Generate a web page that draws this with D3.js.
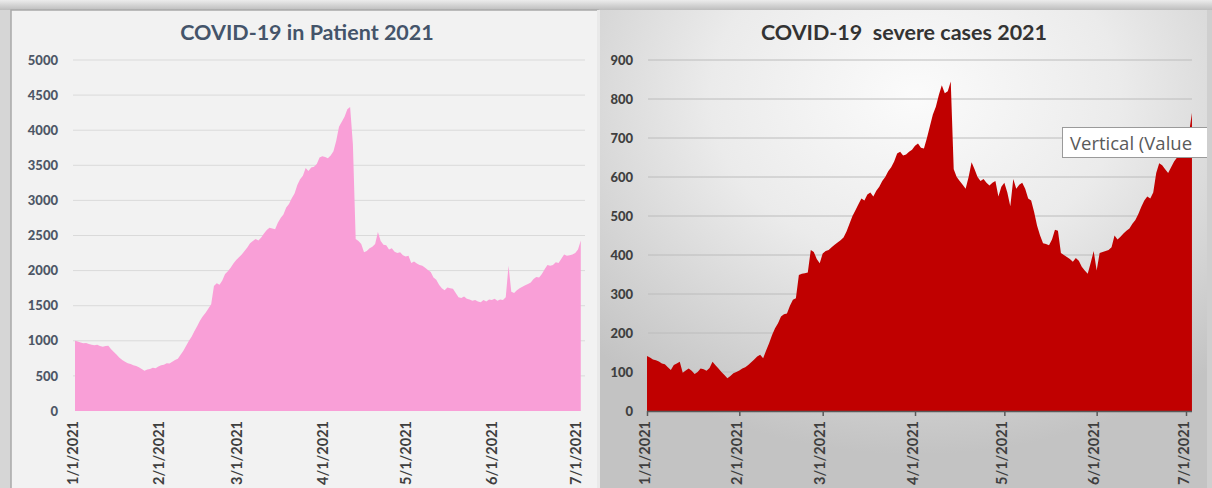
<!DOCTYPE html>
<html>
<head>
<meta charset="utf-8">
<script src="https://cdn.jsdelivr.net/npm/d3@7"></script>
<style>
  html, body { margin: 0; padding: 0; background: #d6d6d6; }
  svg { display: block; }
</style>
</head>
<body>
<svg id="chart"></svg>
<script>
// daily values, Jan 1 2021 onwards
const patientValues = [
  1001, 990, 975, 965, 970, 955, 945, 935, 945, 925,
  915, 925, 930, 880, 840, 800, 760, 725, 700, 680,
  670, 650, 640, 625, 600, 575, 590, 600, 615, 610,
  635, 650, 660, 680, 675, 700, 725, 745, 800, 860,
  930, 1000, 1060, 1140, 1210, 1290, 1350, 1400, 1460, 1520,
  1780, 1820, 1800, 1860, 1950, 1990, 2040, 2100, 2150, 2190,
  2230, 2280, 2330, 2390, 2420, 2450, 2430, 2470, 2530, 2580,
  2610, 2600, 2590, 2680, 2750, 2800, 2900, 2950, 3030, 3100,
  3220, 3300, 3350, 3460, 3420, 3470, 3480, 3520, 3610, 3630,
  3620, 3600, 3640, 3700, 3850, 4050, 4120, 4190, 4300, 4330,
  3800, 2450, 2420, 2380, 2260, 2280, 2320, 2340, 2380, 2550,
  2420, 2370, 2360, 2300, 2320, 2270, 2250, 2260, 2220, 2200,
  2210, 2110, 2130, 2100, 2080, 2070, 2040, 2010, 1980, 1900,
  1870, 1800, 1750, 1720, 1760, 1750, 1740, 1680, 1620, 1610,
  1630, 1600, 1590, 1570, 1580, 1560, 1550, 1580, 1560, 1590,
  1580, 1600, 1570, 1590, 1580, 1620, 2070, 1700, 1680, 1720,
  1750, 1770, 1790, 1810, 1830, 1880, 1910, 1900, 1950, 2020,
  2080, 2070, 2080, 2120, 2110, 2170, 2230, 2210, 2220, 2230,
  2250, 2300, 2430
];

const severeValues = [
  141, 137, 132, 130, 127, 122, 120, 112, 105, 118,
  122, 126, 98, 104, 109, 103, 95, 100, 109, 107,
  103, 110, 126, 117, 109, 100, 92, 84, 90, 97,
  100, 104, 109, 112, 118, 125, 132, 140, 144, 135,
  155, 174, 195, 212, 225, 242, 248, 250, 270, 285,
  289, 349, 352, 353, 355, 413, 408, 390, 379, 404,
  410, 413, 420, 426, 432, 438, 445, 460, 480, 500,
  515, 530, 545, 540, 555, 560, 550, 565, 575, 590,
  600, 615, 625, 640, 660, 665, 655, 658, 665, 670,
  680, 686, 675, 673, 700, 730, 760, 780, 810, 835,
  815, 820, 845, 620, 600, 590, 580, 570, 600, 638,
  620, 600, 590, 595, 585, 578, 585, 590, 550, 575,
  585, 560, 525, 595, 570, 580, 585, 570, 545, 540,
  510, 475, 450, 430, 428, 425, 440, 465, 462, 405,
  400, 395, 390, 383, 392, 385, 370, 360, 352, 380,
  410, 360, 405, 408, 410, 413, 420, 450, 440, 447,
  455, 462, 468, 480, 490, 505, 524, 540, 550, 545,
  560, 610, 635, 630, 620, 610, 625, 640, 650, 662,
  680, 700, 712, 765
];

const patientTicks = [0, 500, 1000, 1500, 2000, 2500, 3000, 3500, 4000, 4500, 5000];
const severeTicks = [0, 100, 200, 300, 400, 500, 600, 700, 800, 900];

const startDate = new Date(2021, 0, 1);
const endDate = new Date(2021, 6, 1);
const monthTicks = d3.timeMonth.range(startDate, d3.timeDay.offset(endDate, 1));
const fmtDate = d => `${d.getMonth() + 1}/${d.getDate()}/${d.getFullYear()}`;
const fmtNum = d3.format('d');

const width = 1212;
const height = 488;

const svg = d3.select('#chart')
    .attr('width', width)
    .attr('height', height);

const defs = svg.append('defs');

const topGrad = defs.append('linearGradient')
    .attr('id', 'topShade')
    .attr('x1', 0).attr('y1', 0).attr('x2', 0).attr('y2', 1);
topGrad.append('stop').attr('offset', '0%').attr('stop-color', '#ececec');
topGrad.append('stop').attr('offset', '100%').attr('stop-color', '#bdbdbd');

const rightGrad = defs.append('radialGradient')
    .attr('id', 'rightBg')
    .attr('cx', '52%').attr('cy', '18%').attr('r', '75%');
rightGrad.append('stop').attr('offset', '0%').attr('stop-color', '#fbfbfb');
rightGrad.append('stop').attr('offset', '45%').attr('stop-color', '#ebebeb');
rightGrad.append('stop').attr('offset', '100%').attr('stop-color', '#c3c3c3');

defs.append('clipPath').attr('id', 'rightClip')
  .append('rect')
    .attr('x', 600).attr('y', 10)
    .attr('width', 607).attr('height', 478);

// outer frame
svg.append('rect')
    .attr('x', 0).attr('y', 0)
    .attr('width', width).attr('height', 10)
    .attr('fill', 'url(#topShade)');

// ---------- left panel ----------
const left = svg.append('g');

left.append('rect')
    .attr('x', 11).attr('y', 10)
    .attr('width', 587).attr('height', 480)
    .attr('fill', '#f2f2f2')
    .attr('stroke', '#a9a9a9')
    .attr('stroke-width', 1.5);

const xL = d3.scaleTime().domain([startDate, endDate]).range([75, 578]);
const yL = d3.scaleLinear().domain([0, 5000]).range([411, 60]);

left.append('g')
  .selectAll('line')
  .data(patientTicks.slice(1))
  .enter()
  .append('line')
    .attr('x1', 73).attr('x2', 585)
    .attr('y1', d => yL(d)).attr('y2', d => yL(d))
    .attr('stroke', '#dadada')
    .attr('stroke-width', 1);

const patientArea = d3.area()
    .x((d, i) => xL(d3.timeDay.offset(startDate, i)))
    .y0(yL(0))
    .y1(d => yL(d));

left.append('path')
    .datum(patientValues)
    .attr('d', patientArea)
    .attr('fill', '#f99fd7');

const yAxisL = left.append('g')
    .attr('transform', 'translate(58,0)')
    .call(d3.axisLeft(yL).tickValues(patientTicks).tickFormat(fmtNum).tickSize(0).tickPadding(0));
yAxisL.select('.domain').remove();
yAxisL.selectAll('text')
    .attr('font-family', 'Lato, sans-serif')
    .attr('font-weight', 900)
    .attr('font-size', 13)
    .attr('fill', '#4e5766');

const xAxisL = left.append('g')
    .attr('transform', 'translate(0,411)')
    .call(d3.axisBottom(xL).tickValues(monthTicks).tickFormat(fmtDate).tickSize(0));
xAxisL.select('.domain').remove();
xAxisL.selectAll('text')
    .attr('font-family', 'Lato, sans-serif')
    .attr('font-weight', 'bold')
    .attr('font-size', 14.5)
    .attr('fill', '#3f3f3f')
    .attr('text-anchor', 'end')
    .attr('transform', 'translate(-3,10) rotate(-90)')
    .attr('x', 0).attr('y', 0)
    .attr('dy', '0.35em');

left.append('text')
    .attr('x', 307).attr('y', 40)
    .attr('text-anchor', 'middle')
    .attr('font-family', 'Lato, sans-serif')
    .attr('font-weight', 'bold')
    .attr('font-size', 21.5)
    .attr('fill', '#44546a')
    .text('COVID-19 in Patient 2021');

// ---------- right panel ----------
const right = svg.append('g').attr('clip-path', 'url(#rightClip)');

right.append('rect')
    .attr('x', 600).attr('y', 10)
    .attr('width', 607).attr('height', 478)
    .attr('fill', 'url(#rightBg)');

const xR = d3.scaleTime().domain([startDate, endDate]).range([647, 1186]);
const yR = d3.scaleLinear().domain([0, 900]).range([411, 60]);

right.append('g')
  .selectAll('line')
  .data(severeTicks.slice(1))
  .enter()
  .append('line')
    .attr('x1', 648).attr('x2', 1192)
    .attr('y1', d => yR(d)).attr('y2', d => yR(d))
    .attr('stroke', '#bcbcbc')
    .attr('stroke-width', 1);

const severeArea = d3.area()
    .x((d, i) => xR(d3.timeDay.offset(startDate, i)))
    .y0(yR(0))
    .y1(d => yR(d));

right.append('path')
    .datum(severeValues)
    .attr('d', severeArea)
    .attr('fill', '#c00000');

const yAxisR = right.append('g')
    .attr('transform', 'translate(633,0)')
    .call(d3.axisLeft(yR).tickValues(severeTicks).tickFormat(fmtNum).tickSize(0).tickPadding(0));
yAxisR.select('.domain').remove();
yAxisR.selectAll('text')
    .attr('font-family', 'Lato, sans-serif')
    .attr('font-weight', 900)
    .attr('font-size', 13)
    .attr('fill', '#404040');

right.append('line')
    .attr('x1', 647).attr('x2', 1192)
    .attr('y1', 411.5).attr('y2', 411.5)
    .attr('stroke', '#595959')
    .attr('stroke-width', 1.5);

const xAxisR = right.append('g')
    .attr('transform', 'translate(0,411)')
    .call(d3.axisBottom(xR).tickValues(monthTicks).tickFormat(fmtDate).tickSize(5));
xAxisR.select('.domain').remove();
xAxisR.selectAll('line')
    .attr('stroke', '#595959')
    .attr('stroke-width', 1.5);
xAxisR.selectAll('text')
    .attr('font-family', 'Lato, sans-serif')
    .attr('font-weight', 'bold')
    .attr('font-size', 14.5)
    .attr('fill', '#3f3f3f')
    .attr('text-anchor', 'end')
    .attr('transform', 'translate(-3,10) rotate(-90)')
    .attr('x', 0).attr('y', 0)
    .attr('dy', '0.35em');

right.append('text')
    .attr('x', 904).attr('y', 40)
    .attr('text-anchor', 'middle')
    .attr('font-family', 'Lato, sans-serif')
    .attr('font-weight', 'bold')
    .attr('font-size', 21.5)
    .attr('fill', '#333333')
    .style('white-space', 'pre')
    .text('COVID-19  severe cases 2021');

// hover tip left over in the screenshot
right.append('rect')
    .attr('x', 1062.5).attr('y', 127.5)
    .attr('width', 160).attr('height', 30)
    .attr('fill', '#ffffff')
    .attr('stroke', '#9a9a9a');

right.append('text')
    .attr('x', 1070).attr('y', 150)
    .attr('font-family', '"Open Sans", sans-serif')
    .attr('font-size', 18.5)
    .attr('fill', '#5a5a5a')
    .text('Vertical (Value');

// divider + right edge
svg.append('rect')
    .attr('x', 597).attr('y', 10)
    .attr('width', 3).attr('height', 478)
    .attr('fill', '#e9e9e9');
svg.append('rect')
    .attr('x', 1207).attr('y', 10)
    .attr('width', 5).attr('height', 478)
    .attr('fill', '#cfcfcf');
</script>
</body>
</html>
